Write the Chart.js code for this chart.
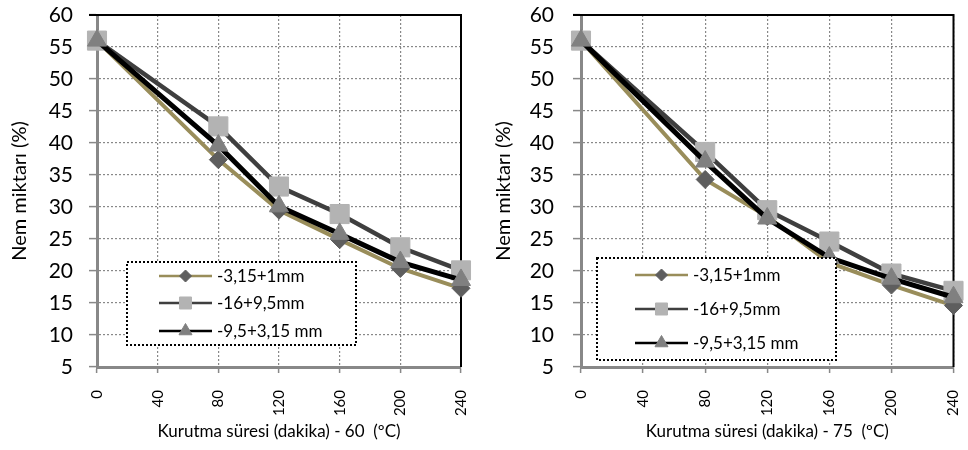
<!DOCTYPE html>
<html>
<head>
<meta charset="utf-8">
<script src="https://cdn.jsdelivr.net/npm/chart.js@4.4.0/dist/chart.umd.min.js"></script>
<style>
  body { margin: 0; background: #fff; }
  .wrap { position: absolute; top: 0; width: 484px; height: 450px; }
</style>
</head>
<body>
<div class="wrap" style="left:0"><canvas id="chart60" width="484" height="450"></canvas></div>
<div class="wrap" style="left:484px"><canvas id="chart75" width="484" height="450"></canvas></div>
<script>
// kurutma süreleri (dakika)
const times = [0, 80, 120, 160, 200, 240];
const xTickValues = [0, 40, 80, 120, 160, 200, 240];
const yTickValues = [5, 10, 15, 20, 25, 30, 35, 40, 45, 50, 55, 60];
const seriesLabels = ["-3,15+1mm", "-16+9,5mm", "-9,5+3,15 mm"];

// 60 °C
const nem60_small = [56, 37.4, 29.5, 24.9, 20.4, 17.3];
const nem60_large = [56, 42.6, 33.2, 28.9, 23.7, 20.1];
const nem60_mid = [56, 39.6, 30.1, 25.8, 21.4, 18.6];

// 75 °C
const nem75_small = [56, 34.3, 28.5, 21.3, 17.8, 14.6];
const nem75_large = [56, 38.6, 29.5, 24.6, 19.6, 16.9];
const nem75_mid = [56, 37.1, 28.2, 22.1, 18.8, 15.9];

const FONT = "Lato, 'Open Sans', sans-serif";

const seriesStyle = [
  { line: "#998d5a", width: 4, point: "rectRot", radius: 9, fill: "#5e5e5e", legendRadius: 6 },
  { line: "#3f3f3f", width: 4.5, point: "rect", radius: 13.5, fill: "#b3b3b3", legendRadius: 8.5 },
  { line: "#000000", width: 5, point: "triangle", radius: 11, fill: "#808080", legendRadius: 7.5 }
];

// 🔹 üst ve sağ siyah çerçeve
const frameLines = {
  id: "frameLines",
  beforeDatasetsDraw(chart) {
    const { ctx, chartArea: a } = chart;
    ctx.save();
    ctx.strokeStyle = "#000";
    ctx.lineWidth = 2;
    ctx.beginPath();
    ctx.moveTo(a.left - 8, a.top);
    ctx.lineTo(a.right, a.top);
    ctx.lineTo(a.right, a.bottom);
    ctx.stroke();
    ctx.restore();
  }
};

// 🔹 noktalı çerçeveli lejant
const boxLegend = {
  id: "boxLegend",
  afterDraw(chart, args, o) {
    const ctx = chart.ctx;
    ctx.save();
    ctx.fillStyle = "#fff";
    ctx.fillRect(o.x, o.y, o.w, o.h);
    ctx.setLineDash([2, 2]);
    ctx.lineWidth = 2;
    ctx.strokeStyle = "#000";
    ctx.strokeRect(o.x, o.y, o.w, o.h);
    ctx.setLineDash([]);
    chart.data.datasets.forEach((ds, i) => {
      const st = seriesStyle[i];
      const y = o.rows[i];
      ctx.strokeStyle = st.line;
      ctx.lineWidth = 2.5;
      ctx.beginPath();
      ctx.moveTo(o.lineX0, y);
      ctx.lineTo(o.lineX1, y);
      ctx.stroke();
      ctx.fillStyle = st.fill;
      ctx.strokeStyle = st.fill;
      ctx.lineWidth = 1;
      Chart.helpers.drawPoint(ctx, { pointStyle: st.point, radius: st.legendRadius, rotation: 0, borderWidth: 1 },
        (o.lineX0 + o.lineX1) / 2, y);
      ctx.fillStyle = "#000";
      ctx.font = "17px " + FONT;
      ctx.textBaseline = "middle";
      ctx.textAlign = "left";
      ctx.fillText(ds.label, o.textX, y + 1);
    });
    ctx.restore();
  }
};

function makeDataset(i, values) {
  const st = seriesStyle[i];
  return {
    label: seriesLabels[i],
    data: times.map((t, k) => ({ x: t, y: values[k] })),
    borderColor: st.line,
    borderWidth: st.width,
    pointStyle: st.point,
    pointRadius: st.radius,
    pointBackgroundColor: st.fill,
    pointBorderColor: st.fill,
    pointBorderWidth: 1,
    tension: 0,
    clip: false,
    order: 3 - i
  };
}

function drawChart(id, small, large, mid, titleText, cfg) {
  const ctx = document.getElementById(id).getContext("2d");
  return new Chart(ctx, {
    type: "line",
    data: {
      datasets: [makeDataset(0, small), makeDataset(1, large), makeDataset(2, mid)]
    },
    plugins: [frameLines, boxLegend],
    options: {
      responsive: false,
      animation: false,
      layout: { padding: { top: 15, right: cfg.padRight, left: 0, bottom: 0 } },
      plugins: {
        legend: { display: false },
        tooltip: { enabled: false },
        boxLegend: cfg.legend
      },
      scales: {
        x: {
          type: "linear",
          min: 0,
          max: 240,
          afterBuildTicks: s => { s.ticks = xTickValues.map(v => ({ value: v })); },
          ticks: { minRotation: 90, maxRotation: 90, padding: 17, color: "#000", font: { family: FONT, size: 15 } },
          grid: { color: "#888", lineWidth: 1.2, tickLength: 6, tickColor: "#888", tickWidth: 1.5 },
          border: { color: "#888", width: 3, dash: [2, 2] },
          title: {
            display: true,
            text: titleText,
            color: "#000",
            font: { family: FONT, size: 17 },
            padding: { top: 0, bottom: 8 }
          },
          afterFit: s => { s.height = 83; s.paddingLeft = 0; s.paddingRight = 0; }
        },
        y: {
          min: 5,
          max: 60,
          afterBuildTicks: s => { s.ticks = yTickValues.map(v => ({ value: v })); },
          ticks: { padding: cfg.yPad, color: "#000", font: { family: FONT, size: 21 } },
          grid: { color: "#888", lineWidth: 1.2, tickLength: 8, tickColor: "#888", tickWidth: 1.5 },
          border: { color: "#888", width: 3, dash: [2, 2] },
          title: {
            display: true,
            text: "Nem miktarı (%)",
            color: "#000",
            font: { family: FONT, size: 20 },
            padding: { top: 8, bottom: 0 }
          },
          afterFit: s => { s.width = 97; s.paddingTop = 0; s.paddingBottom = 0; }
        }
      }
    }
  });
}

drawChart("chart60", nem60_small, nem60_large, nem60_mid, "Kurutma süresi (dakika) - 60  (ºC)", {
  padRight: 23,
  yPad: 16,
  legend: { x: 127, y: 262, w: 229, h: 83, rows: [276, 303, 331], lineX0: 159, lineX1: 212, textX: 217 }
});

drawChart("chart75", nem75_small, nem75_large, nem75_mid, "Kurutma süresi (dakika) - 75  (ºC)", {
  padRight: 5,
  yPad: 19,
  legend: { x: 113, y: 258, w: 239, h: 102, rows: [275, 309, 343], lineX0: 151, lineX1: 204, textX: 209 }
});
</script>
</body>
</html>
